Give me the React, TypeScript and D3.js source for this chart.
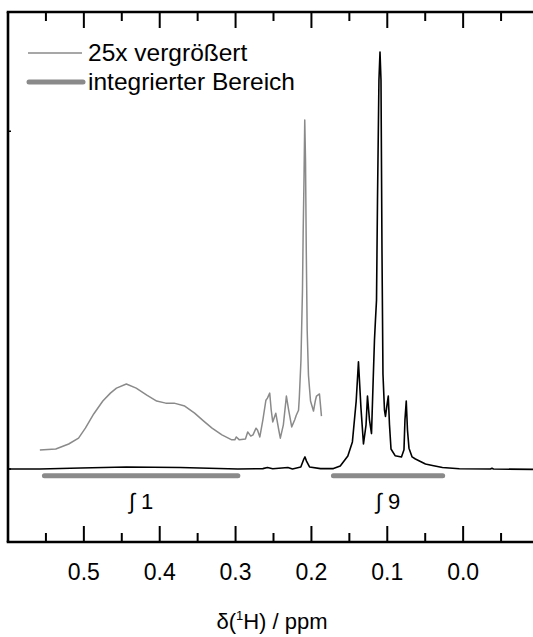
import React from "react";
import * as d3 from "d3";

// Black spectrum: [ppm, intensity]
const mainPpm = [0.6, 0.558, 0.504, 0.444, 0.373, 0.297, 0.264, 0.258, 0.251, 0.231, 0.225, 0.214, 0.21, 0.2085, 0.2065, 0.2025, 0.188, 0.171, 0.162, 0.152, 0.146, 0.141, 0.138, 0.1347, 0.1314, 0.128, 0.1261, 0.1235, 0.1208, 0.1186, 0.1169, 0.1156, 0.1142, 0.1129, 0.111, 0.1096, 0.1083, 0.107, 0.1057, 0.1037, 0.1024, 0.1004, 0.0987, 0.0971, 0.0951, 0.0897, 0.0813, 0.078, 0.0767, 0.075, 0.0734, 0.0714, 0.0673, 0.0629, 0.0563, 0.0497, 0.0405, 0.0273, 0.005, -0.036, -0.038, -0.04, -0.1];
const mainInt = [0, 0, 0.24, 0.5, 0.36, 0, 0.1, 0.35, 0.05, 0.35, 0, 0.5, 2.4, 2.9, 1.9, 0.5, 0.1, 0.1, 0.7, 3.1, 6.5, 16.3, 25.7, 14.6, 6.0, 10.6, 17.5, 11.8, 8.5, 21.3, 30.9, 35.7, 40.5, 64.5, 93.3, 100, 93.3, 52.5, 22.8, 14.1, 12.6, 15.3, 17.5, 10.6, 4.8, 3.2, 2.9, 4.6, 11.8, 16.3, 9.4, 5.0, 2.9, 2.4, 1.8, 1.2, 0.84, 0.36, 0.05, 0, 0.2, 0, -0.1];

// Grey spectrum (25x magnified): [ppm, intensity]
const zoomPpm = [0.558, 0.537, 0.52, 0.507, 0.498, 0.487, 0.475, 0.465, 0.457, 0.444, 0.431, 0.417, 0.404, 0.392, 0.381, 0.367, 0.354, 0.342, 0.331, 0.318, 0.305, 0.301, 0.299, 0.295, 0.287, 0.284, 0.28, 0.277, 0.273, 0.271, 0.268, 0.264, 0.26, 0.258, 0.255, 0.253, 0.251, 0.247, 0.243, 0.241, 0.237, 0.233, 0.23, 0.226, 0.222, 0.22, 0.217, 0.216, 0.2138, 0.2118, 0.2109, 0.2098, 0.2088, 0.2078, 0.2068, 0.2056, 0.2039, 0.2012, 0.1973, 0.1947, 0.1933, 0.1894, 0.1881, 0.1868];
const zoomInt = [4.56, 4.8, 6.0, 7.4, 9.8, 13.2, 16.3, 18.2, 19.4, 20.4, 19.4, 17.7, 16.3, 15.8, 15.8, 15.1, 13.4, 11.5, 9.8, 8.2, 7.0, 7.0, 7.7, 7.0, 7.2, 8.9, 7.9, 8.2, 9.8, 9.3, 7.7, 11.8, 16.5, 17.0, 18.2, 14.1, 11.3, 13.4, 9.3, 7.4, 10.6, 17.5, 14.1, 10.1, 11.8, 12.9, 14.1, 17.0, 26.1, 42.9, 56.6, 69.3, 83.7, 74.1, 52.5, 33.3, 22.5, 16.3, 13.9, 16.5, 17.5, 18.0, 15.4, 12.7];

// Integrated regions
const regionStart = [0.552, 0.171];
const regionEnd = [0.297, 0.027];
const regionLabels = ["\u222B 1", "\u222B 9"];

const majorTicks = [0.5, 0.4, 0.3, 0.2, 0.1, 0.0];
const minorTicks = [0.55, 0.45, 0.35, 0.25, 0.15, 0.05, -0.05];
const tickLabels = ["0.5", "0.4", "0.3", "0.2", "0.1", "0.0"];
const yTicks = [81, 0];

const legendLabels = ["25x vergrößert", "integrierter Bereich"];

const W = 533;
const H = 637;
const GREY = "#8a8a8a";
const FONT = "'Liberation Sans', Arial, Helvetica, sans-serif";

export default function App() {
  const x = d3.scaleLinear().domain([0.6, -0.1]).range([8, 539]);
  const y = d3.scaleLinear().domain([-17.5, 109.6]).range([542, 12]);
  const top = y(109.6);
  const bottom = y(-17.5);

  const line = d3
    .line<[number, number]>()
    .x((d) => x(d[0]))
    .y((d) => y(d[1]))
    .curve(d3.curveLinear);

  const mainData = mainPpm.map((p, i) => [p, mainInt[i]] as [number, number]);
  const zoomData = zoomPpm.map((p, i) => [p, zoomInt[i]] as [number, number]);

  const MAJ = 16;
  const MIN = 9;

  return (
    <svg
      width={W}
      height={H}
      style={{ position: "absolute", left: 0, top: 0, background: "#fff" }}
      fontFamily={FONT}
    >
      {/* spectra */}
      <path d={line(zoomData) || ""} fill="none" stroke={GREY} strokeWidth={1.5} strokeLinejoin="round" />
      <path d={line(mainData) || ""} fill="none" stroke="#000" strokeWidth={1.6} strokeLinejoin="round" />

      {/* integration bars */}
      {regionStart.map((s, i) => (
        <g key={i}>
          <line
            x1={x(s)}
            x2={x(regionEnd[i])}
            y1={y(-1.6)}
            y2={y(-1.6)}
            stroke={GREY}
            strokeWidth={5}
            strokeLinecap="round"
          />
          <text
            x={(x(s) + x(regionEnd[i])) / 2}
            y={509}
            fontSize={22}
            textAnchor="middle"
            fill="#000"
          >
            {regionLabels[i]}
          </text>
        </g>
      ))}

      {/* frame */}
      <line x1={8} x2={8} y1={top} y2={bottom} stroke="#000" strokeWidth={2.6} />
      <line x1={6.7} x2={W} y1={top} y2={top} stroke="#000" strokeWidth={2.6} />
      <line x1={6.7} x2={W} y1={bottom} y2={bottom} stroke="#000" strokeWidth={2.6} />

      {/* y ticks (tiny) */}
      {yTicks.map((t, i) => (
        <line key={i} x1={8} x2={11} y1={y(t)} y2={y(t)} stroke="#000" strokeWidth={1.5} />
      ))}

      {/* x ticks */}
      {majorTicks.map((t, i) => (
        <g key={"M" + i}>
          <line x1={x(t)} x2={x(t)} y1={bottom} y2={bottom - MAJ} stroke="#000" strokeWidth={2} />
          <line x1={x(t)} x2={x(t)} y1={top} y2={top + MAJ} stroke="#000" strokeWidth={2} />
          <text x={x(t)} y={580} fontSize={23} textAnchor="middle" fill="#000">
            {tickLabels[i]}
          </text>
        </g>
      ))}
      {minorTicks.map((t, i) => (
        <g key={"m" + i}>
          <line x1={x(t)} x2={x(t)} y1={bottom} y2={bottom - MIN} stroke="#000" strokeWidth={2} />
          <line x1={x(t)} x2={x(t)} y1={top} y2={top + MIN} stroke="#000" strokeWidth={2} />
        </g>
      ))}

      {/* axis title */}
      <text x={272} y={629} fontSize={22} textAnchor="middle" fill="#000">
        δ(<tspan dy={-9} fontSize={13}>1</tspan>
        <tspan dy={9}>H) / ppm</tspan>
      </text>

      {/* legend */}
      <line x1={28} x2={82} y1={53} y2={53} stroke={GREY} strokeWidth={1.5} />
      <line x1={29} x2={83} y1={82} y2={82} stroke={GREY} strokeWidth={5} strokeLinecap="round" />
      <text x={88} y={61} fontSize={24.5} fill="#000">{legendLabels[0]}</text>
      <text x={88} y={90} fontSize={24.5} fill="#000">{legendLabels[1]}</text>
    </svg>
  );
}
